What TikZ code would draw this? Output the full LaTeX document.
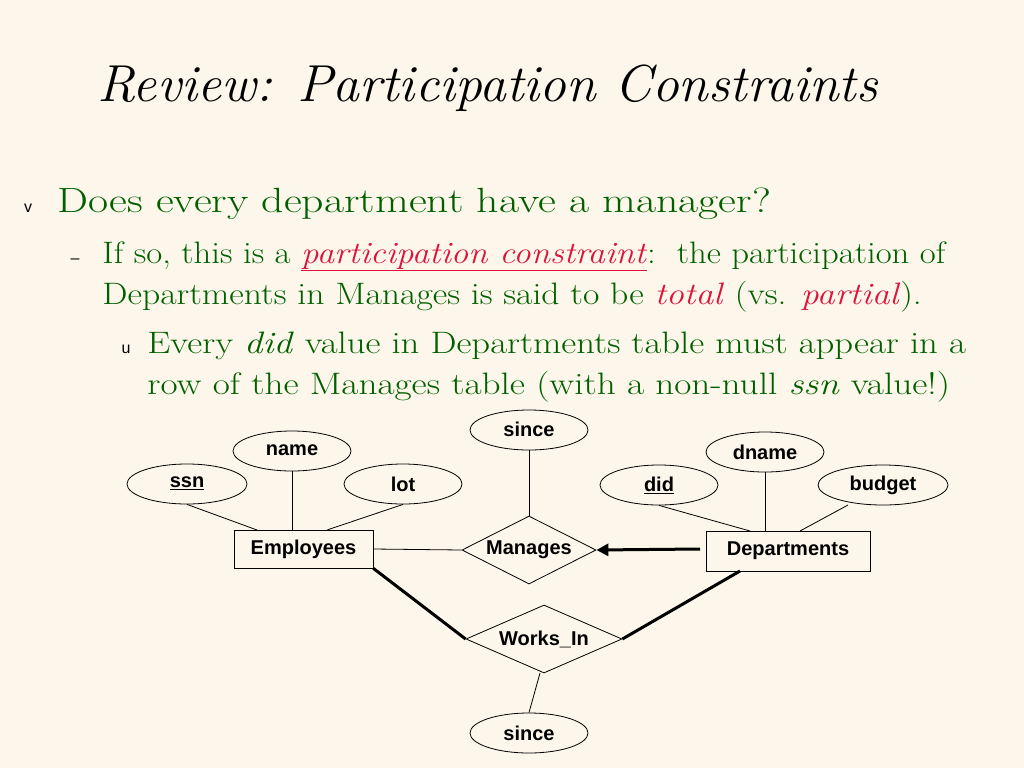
\documentclass[tikz,border=0pt]{standalone}
\usepackage{fontspec}
\newfontfamily\diagfont{Liberation Sans}
\usetikzlibrary{shapes.geometric,arrows.meta}
\definecolor{paper}{RGB}{253,246,234}
\definecolor{textgreen}{RGB}{0,96,0}
\definecolor{hotred}{RGB}{220,20,60}
\tikzset{
  attr/.style={draw,ellipse,minimum width=118pt,minimum height=40pt,inner sep=0pt,font=\diagfont\bfseries\fontsize{20}{22}\selectfont},
  entity/.style={draw,rectangle,minimum height=38pt,font=\diagfont\bfseries\fontsize{20}{22}\selectfont},
  relship/.style={draw,diamond,aspect=2,inner sep=0pt,font=\diagfont\bfseries\fontsize{20}{22}\selectfont},
  bigline/.style={line width=3pt},
  bul/.style={anchor=base,font=\diagfont\fontsize{16}{18}\selectfont},
  txt/.style={anchor=base west,inner sep=0pt,textgreen,font=\fontsize{31}{36}\selectfont}
}
\begin{document}
\begin{tikzpicture}[x=1pt,y=-1pt,line width=0.8pt]
        \fill[paper] (0,0) rectangle (1024,768);
        \useasboundingbox (0,0) rectangle (1024,768);
        % title and text
        \node[anchor=base west,inner sep=0pt,font=\fontsize{52}{60}\selectfont\itshape] (title) at (97,101) {\scalebox{1.03}[1]{Review: Participation Constraints}};
        \node[bul] (b1) at (28,212) {v};
        \node[txt,font=\fontsize{35}{40}\selectfont] (l1) at (57,212) {\scalebox{1.25}[1]{Does every department have a manager?}};
        \node[bul] (b2) at (75,263) {–};
        \node[txt] (l2) at (102,263)
          {\scalebox{1.12}[1]{If so, this is a \textcolor{hotred}{\underline{\textit{participation constraint}}}:\ \ the participation of}};
        \node[txt] (l3) at (102,304)
          {\scalebox{1.15}[1]{Departments in Manages is said to be \textcolor{hotred}{\textit{total}} (vs. \textcolor{hotred}{\textit{partial}}).}};
        \node[bul] (b3) at (126,353) {u};
        \node[txt] (l4) at (147,353)
          {\scalebox{1.185}[1]{Every \textit{did} value in Departments table must appear in a}};
        \node[txt] (l5) at (147,394)
          {\scalebox{1.2}[1]{row of the Manages table (with a non-null \textit{ssn} value!)}};
        % attributes
        \node[attr] (since1) at (529,430) {\raisebox{2pt}{since}};
        \node[attr] (name) at (292,451) {\raisebox{2pt}{name}};
        \node[attr,minimum width=120pt] (ssn) at (187,484) {\raisebox{3pt}{\underline{ssn}}};
        \node[attr] (lot) at (403,484) {lot};
        \node[attr] (dname) at (765,452) {dname};
        \node[attr] (did) at (659,485) {\underline{did}};
        \node[attr,minimum width=130pt] (budget) at (883,485) {budget};
        \node[attr] (since2) at (529,733) {since};
        % entities and relationships
        \node[entity,minimum width=139pt] (emp) at (303.5,549) {Employees};
        \node[entity,minimum width=164pt,minimum height=40pt] (dept) at (788,551) {\raisebox{3pt}{Departments}};
        \node[relship,minimum width=134pt,minimum height=68pt] (man) at (529,550) {\raisebox{-3pt}{Manages}};
        \node[relship,minimum width=156pt,minimum height=68pt] (works) at (544,639) {Works\_In};
        \coordinate (ssnend) at (257,530);
        \coordinate (lotend) at (327,530);
        \coordinate (didend) at (750,531);
        \coordinate (budend) at (800,531);
        \coordinate (deptin) at (700,549);
        \coordinate (deptlow) at (740,571);
        \coordinate (budtop) at (848,505);
        \coordinate (sincetop) at (540,673);
        % connectors
        \draw (ssn.south) -- (ssnend);
        \draw (name) -- (name |- emp.north);
        \draw (lot.south) -- (lotend);
        \draw (since1) -- (man);
        \draw (emp.east) -- (man.west);
        \draw[bigline,-{Triangle[length=12pt,width=12pt]}] (deptin) -- (man.east);
        \draw[bigline] (emp.south east) -- (works.west);
        \draw[bigline] (works.east) -- (deptlow);
        \draw (sincetop) -- (since2.north);
        \draw (dname) -- (dname |- dept.north);
        \draw (did.south) -- (didend);
        \draw (budtop) -- (budend);
      \end{tikzpicture}
\end{document}
